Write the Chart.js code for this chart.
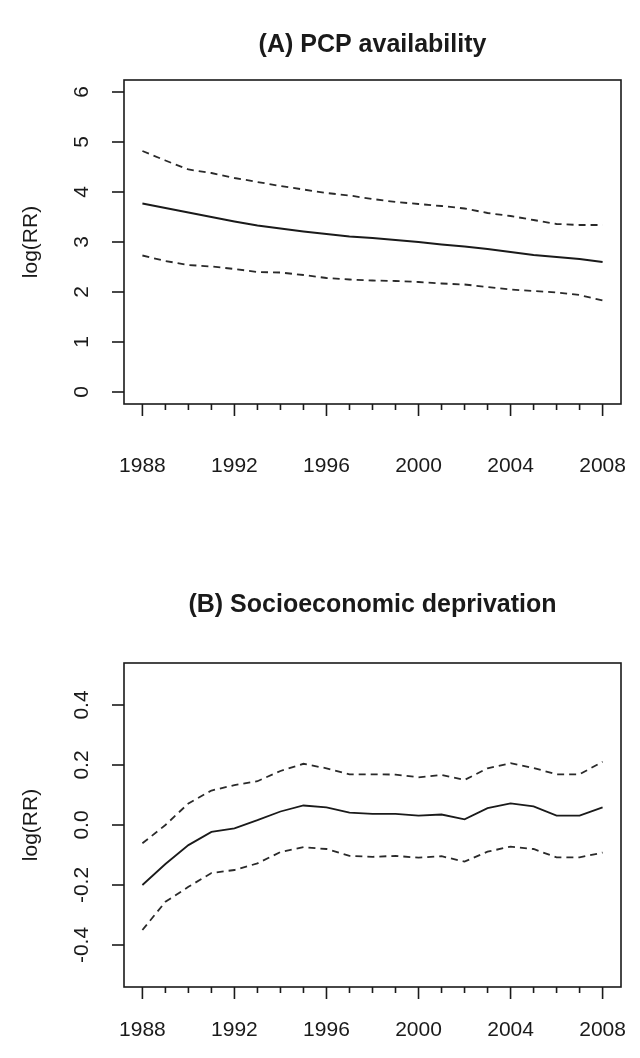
<!DOCTYPE html>
<html>
<head>
<meta charset="utf-8">
<script src="https://cdn.jsdelivr.net/npm/chart.js@4.4.1/dist/chart.umd.min.js"></script>
<style>
  html, body { margin: 0; padding: 0; background: #fff; }
  #wrap { position: relative; width: 640px; height: 1058px; }
  canvas { position: absolute; left: 0; }
  #pcp { top: 0; }
  #ses { top: 529px; }
</style>
</head>
<body>
<div id="wrap">
  <canvas id="pcp" width="640" height="529"></canvas>
  <canvas id="ses" width="640" height="529"></canvas>
</div>
<script>
// years 1988..2008
const years = [1988, 1989, 1990, 1991, 1992, 1993, 1994, 1995, 1996, 1997, 1998,
  1999, 2000, 2001, 2002, 2003, 2004, 2005, 2006, 2007, 2008];
const yearLabels = [1988, 1992, 1996, 2000, 2004, 2008];

// (A) PCP availability, log(RR) with pointwise bands
const pcpFit = [3.77, 3.68, 3.59, 3.50, 3.41, 3.33, 3.27, 3.21, 3.16, 3.11, 3.08,
  3.04, 3.00, 2.95, 2.91, 2.86, 2.80, 2.74, 2.70, 2.66, 2.60];
const pcpUpper = [4.82, 4.63, 4.45, 4.38, 4.28, 4.20, 4.12, 4.05, 3.98, 3.93, 3.86,
  3.80, 3.76, 3.72, 3.67, 3.58, 3.52, 3.44, 3.36, 3.34, 3.34];
const pcpLower = [2.73, 2.62, 2.54, 2.51, 2.46, 2.40, 2.39, 2.34, 2.28, 2.25, 2.23,
  2.22, 2.20, 2.17, 2.15, 2.10, 2.05, 2.02, 1.99, 1.94, 1.83];
const pcpTicks = [0, 1, 2, 3, 4, 5, 6];
const pcpTickLabels = ['0', '1', '2', '3', '4', '5', '6'];

// (B) Socioeconomic deprivation
const sesFit = [-0.200, -0.130, -0.067, -0.023, -0.011, 0.016, 0.045, 0.065, 0.059, 0.041, 0.037,
  0.037, 0.031, 0.035, 0.019, 0.056, 0.072, 0.062, 0.031, 0.031, 0.059];
const sesUpper = [-0.061, 0.000, 0.072, 0.115, 0.133, 0.146, 0.180, 0.204, 0.189, 0.169, 0.169,
  0.168, 0.159, 0.167, 0.150, 0.189, 0.206, 0.190, 0.169, 0.169, 0.211];
const sesLower = [-0.350, -0.256, -0.206, -0.160, -0.150, -0.128, -0.090, -0.074, -0.080, -0.103, -0.106,
  -0.103, -0.109, -0.104, -0.122, -0.089, -0.072, -0.080, -0.108, -0.108, -0.092];
const sesTicks = [-0.4, -0.2, 0.0, 0.2, 0.4];
const sesTickLabels = ['-0.4', '-0.2', '0.0', '0.2', '0.4'];

const FONT = "'Liberation Sans', Arial, sans-serif";
const ink = '#1a1a1a';

// R-style box, ticks and labels drawn from the chart's scales
const rAxes = {
  id: 'rAxes',
  afterDraw(chart, args, opts) {
    const { ctx, chartArea: a } = chart;
    const xs = chart.scales.x, ys = chart.scales.y;
    ctx.save();
    ctx.strokeStyle = ink;
    ctx.fillStyle = ink;
    ctx.lineWidth = 1.6;
    ctx.strokeRect(a.left, a.top, a.right - a.left, a.bottom - a.top);

    // y ticks
    ctx.font = `21px ${FONT}`;
    ctx.textAlign = 'center';
    ctx.textBaseline = 'middle';
    opts.yTicks.forEach((v, i) => {
      const py = ys.getPixelForValue(v);
      ctx.beginPath();
      ctx.moveTo(a.left - 12, py);
      ctx.lineTo(a.left, py);
      ctx.stroke();
      ctx.save();
      ctx.translate(82, py);
      ctx.rotate(-Math.PI / 2);
      ctx.fillText(opts.yLabels[i], 0, 0);
      ctx.restore();
    });

    // x ticks: every year, longer at labelled years
    years.forEach(yr => {
      const px = xs.getPixelForValue(yr);
      const major = yearLabels.includes(yr);
      ctx.beginPath();
      ctx.moveTo(px, a.bottom);
      ctx.lineTo(px, a.bottom + (major ? 12 : 6));
      ctx.stroke();
    });
    yearLabels.forEach(yr => {
      ctx.fillText(String(yr), xs.getPixelForValue(yr), opts.xLabelY);
    });

    // axis title
    ctx.save();
    ctx.translate(31, (a.top + a.bottom) / 2);
    ctx.rotate(-Math.PI / 2);
    ctx.fillText('log(RR)', 0, 0);
    ctx.restore();

    // main title
    ctx.font = `bold 25px ${FONT}`;
    ctx.fillText(opts.title, (a.left + a.right) / 2, opts.titleY);
    ctx.restore();
  }
};

function line(values, dashed) {
  return {
    data: years.map((yr, i) => ({ x: yr, y: values[i] })),
    borderColor: dashed ? '#2a2a2a' : ink,
    borderWidth: dashed ? 1.8 : 1.8,
    borderDash: dashed ? [7, 5] : [],
    pointRadius: 0,
    tension: 0,
    fill: false,
  };
}

function makePanel(id, cfg) {
  const canvas = document.getElementById(id);
  const H = canvas.height;
  new Chart(canvas, {
    type: 'line',
    data: {
      datasets: [line(cfg.fit, false), line(cfg.upper, true), line(cfg.lower, true)]
    },
    options: {
      responsive: false,
      animation: false,
      devicePixelRatio: 1,
      layout: { padding: { top: cfg.top, right: 19, left: 0, bottom: 0 } },
      plugins: {
        legend: { display: false },
        tooltip: { enabled: false },
        title: { display: false },
        rAxes: {
          yTicks: cfg.yTicks,
          yLabels: cfg.yLabels,
          title: cfg.title,
          titleY: cfg.titleY,
          xLabelY: cfg.xLabelY,
        }
      },
      scales: {
        x: {
          type: 'linear',
          min: 1987.2,
          max: 2008.8,
          grid: { display: false },
          border: { display: false },
          ticks: { display: false },
          afterBuildTicks: s => { s.ticks = years.map(v => ({ value: v })); },
          afterFit: s => { s.height = H - cfg.bottom; },
        },
        y: {
          type: 'linear',
          min: cfg.yMin,
          max: cfg.yMax,
          grid: { display: false },
          border: { display: false },
          ticks: { display: false },
          afterBuildTicks: s => { s.ticks = cfg.yTicks.map(v => ({ value: v })); },
          afterFit: s => { s.width = 124; },
        }
      }
    },
    plugins: [rAxes]
  });
}

makePanel('pcp', {
  fit: pcpFit, upper: pcpUpper, lower: pcpLower,
  yMin: -0.24, yMax: 6.24,
  yTicks: pcpTicks, yLabels: pcpTickLabels,
  title: '(A) PCP availability',
  top: 80, bottom: 404, titleY: 45, xLabelY: 466,
});

makePanel('ses', {
  fit: sesFit, upper: sesUpper, lower: sesLower,
  yMin: -0.54, yMax: 0.54,
  yTicks: sesTicks, yLabels: sesTickLabels,
  title: '(B) Socioeconomic deprivation',
  top: 134, bottom: 458, titleY: 76, xLabelY: 501,
});
</script>
</body>
</html>
